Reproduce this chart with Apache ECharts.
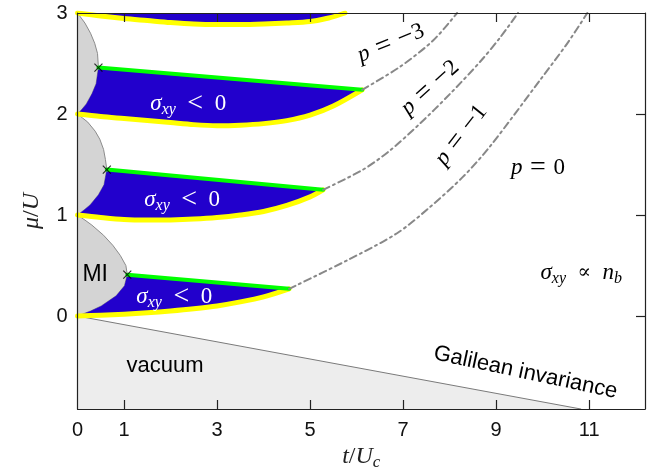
<!DOCTYPE html>
<html><head><meta charset="utf-8">
<script src="https://cdn.jsdelivr.net/npm/echarts@6/dist/echarts.min.js"></script>
<style>html,body{margin:0;padding:0;background:#fff}#c{width:655px;height:472px}</style>
</head><body><div id="c"></div>
<script>
// ---- axis ticks ----
const xTicks = [0, 1, 3, 5, 7, 9, 11];
const xInnerTicks = [1, 3, 5, 7, 9, 11];
const yTicks = [0, 1, 2, 3];
const yInnerTicks = [0, 1, 2];

// ---- vacuum boundary (Galilean invariance line) [t/Uc, mu/U] ----
const vacuumEdge = [[0, 0], [10.82, -0.92]];

// ---- Mott lobes [t/Uc, mu/U] ----
const lobe1 = [[0,0],[0.28,0.05],[0.51,0.1],[0.83,0.2],[1.01,0.3],[1.07,0.41],[1.04,0.5],[0.92,0.6],[0.76,0.7],[0.56,0.8],[0.31,0.9],[0.16,0.95],[0,1]];
const lobe2 = [[0,1],[0.14,1.05],[0.27,1.1],[0.45,1.2],[0.57,1.3],[0.63,1.45],[0.60,1.55],[0.56,1.65],[0.48,1.75],[0.38,1.83],[0.22,1.92],[0.11,1.96],[0,2]];
const lobe3 = [[0,2],[0.10,2.05],[0.19,2.1],[0.31,2.2],[0.40,2.3],[0.45,2.46],[0.43,2.6],[0.37,2.7],[0.28,2.8],[0.16,2.9],[0.08,2.95],[0,3]];

// ---- tips of the negative-Hall regions (crosses) ----
const crosses = [[1.07, 0.41], [0.63, 1.45], [0.45, 2.46]];

// ---- yellow lower boundaries ----
const yellow0 = [[0,0],[0.5,0.008],[1.0,0.018],[1.5,0.032],[2.0,0.05],[2.5,0.072],[3.0,0.10],[3.5,0.14],[4.0,0.19],[4.55,0.27]];
const yellow1 = [[0,1.0],[0.5,0.975],[1.0,0.955],[1.5,0.95],[2.0,0.952],[2.5,0.96],[3.0,0.975],[3.5,1.0],[4.0,1.035],[4.5,1.095],[5.0,1.18],[5.28,1.25]];
const yellow2 = [[0,2.0],[0.5,1.975],[1.0,1.955],[1.5,1.935],[2.0,1.915],[2.5,1.895],[3.0,1.885],[3.5,1.89],[4.0,1.905],[4.5,1.935],[5.0,1.99],[5.5,2.08],[6.12,2.24]];
const yellow3 = [[0,3.0],[0.5,2.97],[1.0,2.945],[1.5,2.925],[2.0,2.905],[2.5,2.89],[3.0,2.885],[3.5,2.885],[4.0,2.89],[4.5,2.9],[5.0,2.915],[5.4,2.95],[5.75,3.0]];

// ---- green upper boundaries ----
const green0 = [[1.07,0.41],[4.55,0.27]];
const green1 = [[0.63,1.45],[5.28,1.25]];
const green2 = [[0.45,2.46],[6.12,2.24]];

// ---- dash-dot plateau boundaries ----
const pLine1 = [[4.55,0.27],[5.79,0.55],[6.87,0.82],[7.58,1.08],[8.29,1.38],[8.87,1.68],[9.95,2.34],[10.53,2.70],[10.96,3.0]];
const pLine2 = [[5.28,1.25],[6.14,1.45],[6.72,1.64],[7.35,1.90],[8.01,2.20],[8.66,2.52],[9.09,2.76],[9.47,3.0]];
const pLine3 = [[6.12,2.24],[6.94,2.47],[7.65,2.73],[8.16,3.0]];

const C = {
  axis: '#222', lobe: '#d4d4d4', lobeEdge: '#8c8c8c', vac: '#ededed', vacEdge: '#7a7a7a',
  blue: '#2200cc', yellow: '#ffff00', green: '#00ff00', dash: '#888888'
};
const SERIF = 'Liberation Serif';
const SANS = 'Liberation Sans';
const SPW = '\u2002';   // wide math space
const SPN = '\u2004';   // narrower math space

function lowerPart(lobe, tip) {
  const out = [];
  for (const p of lobe) { if (p[1] <= tip[1] && !(p[0] === tip[0] && p[1] === tip[1])) out.push(p); }
  return out.reverse();
}
const blue0 = yellow0.concat(green0.slice().reverse()).concat(lowerPart(lobe1, crosses[0]));
const blue1 = yellow1.concat(green1.slice().reverse()).concat(lowerPart(lobe2, crosses[1]));
const blue2 = yellow2.concat(green2.slice().reverse()).concat(lowerPart(lobe3, crosses[2]));
const blue3 = yellow3.concat([[5.75, 3.0], [0, 3.0]]);
const vacuumPoly = vacuumEdge.concat([[0, -0.92]]);

function poly(pts, fill, stroke, z) {
  return {
    type: 'custom', coordinateSystem: 'cartesian2d', clip: true, silent: true, z: z,
    data: [[0, 0]],
    renderItem: function (params, api) {
      return { type: 'polygon', shape: { points: pts.map(p => api.coord(p)), smooth: 0 },
        style: { fill: fill, stroke: stroke || null, lineWidth: stroke ? 1 : 0 } };
    }
  };
}
function line(pts, color, width, type, z, smooth) {
  return {
    type: 'line', data: pts, showSymbol: false, silent: true, z: z, smooth: smooth,
    lineStyle: { color: color, width: width, type: type || 'solid', cap: 'round', join: 'round' },
    clip: true
  };
}

const sig = (col) => ({
  i: { fontFamily: SERIF, fontStyle: 'italic', fontSize: 23, fill: col, lineHeight: 28, verticalAlign: 'middle' },
  s: { fontFamily: SERIF, fontStyle: 'italic', fontSize: 16, fill: col, lineHeight: 28, verticalAlign: 'bottom' },
  r: { fontFamily: SERIF, fontSize: 23, fill: col, lineHeight: 28, verticalAlign: 'middle' },
  o: { fontFamily: SERIF, fontSize: 28, fill: col, lineHeight: 28, verticalAlign: 'middle' },
  q: { fontFamily: 'DejaVu Serif', fontSize: 20, fill: col, lineHeight: 28, verticalAlign: 'middle' }
});
const lessZero = '{i|σ}{s|xy}{r|' + SPW + '}{o|<}{r|' + SPW + '0}';
const pEq = (v) => '{i|p}{r|' + SPN + '}{o|=}{r|' + SPN + '}' + (v === '0' ? '{r|0}' : '{o|−}{r|' + v + '}');

const annotations = [
  { at: [2.38, 2.10], text: lessZero, rich: sig('#fff'), rot: 0 },
  { at: [2.25, 1.15], text: lessZero, rich: sig('#fff'), rot: 0 },
  { at: [2.08, 0.19], text: lessZero, rich: sig('#fff'), rot: 0 },
  { at: [10.83, 0.43], text: '{i|σ}{s|xy}{r|' + SPW + '}{q|∝}{r|' + SPW + '}{i|n}{s|b}', rich: sig('#000'), rot: 0 },
  { at: [6.74, 2.70], text: pEq('3'), rich: sig('#000'), rot: 22 },
  { at: [7.58, 2.26], text: pEq('2'), rich: sig('#000'), rot: 42 },
  { at: [8.25, 1.79], text: pEq('1'), rich: sig('#000'), rot: 52 },
  { at: [9.90, 1.47], text: pEq('0'), rich: sig('#000'), rot: 0 },
  { at: [0.38, 0.41], text: 'MI', font: '23px ' + SANS, rot: 0 },
  { at: [1.88, -0.49], text: 'vacuum', font: '22px ' + SANS, rot: 0 },
  { at: [9.63, -0.56], text: 'Galilean invariance', font: '22px ' + SANS, rot: -12 }
];

const textSeries = {
  type: 'custom', coordinateSystem: 'cartesian2d', silent: true, z: 20, clip: false,
  data: [[0, 0]],
  renderItem: function (params, api) {
    return {
      type: 'group',
      children: annotations.map(a => {
        const p = api.coord(a.at);
        const st = { text: a.text, align: 'center', verticalAlign: 'middle', fill: '#000' };
        if (a.rich) st.rich = a.rich; else st.font = a.font;
        return { type: 'text', x: p[0], y: p[1], rotation: a.rot * Math.PI / 180, style: st };
      })
    };
  }
};

const axisLine = { onZero: false, lineStyle: { color: C.axis, width: 1.2 } };
const tickStyle = { color: C.axis, width: 1.2 };
const nameRich = {
  i: { fontFamily: SERIF, fontStyle: 'italic', fontSize: 24, color: '#222', lineHeight: 28, verticalAlign: 'middle' },
  r: { fontFamily: SERIF, fontSize: 24, color: '#222', lineHeight: 28, verticalAlign: 'middle' },
  s: { fontFamily: SERIF, fontStyle: 'italic', fontSize: 17, color: '#222', lineHeight: 28, verticalAlign: 'bottom' }
};

const chart = echarts.init(document.getElementById('c'), null, { renderer: 'canvas' });
chart.setOption({
  animation: false,
  backgroundColor: '#fff',
  grid: { left: 77.5, right: 10, top: 13, bottom: 63, containLabel: false, outerBoundsMode: 'none' },
  xAxis: [
    { type: 'value', min: 0, max: 12.2, position: 'bottom', z: 10,
      axisLine: axisLine, splitLine: { show: false },
      axisTick: { inside: true, length: 9, customValues: xInnerTicks, lineStyle: tickStyle },
      axisLabel: { customValues: xTicks, fontSize: 20, fontFamily: SANS, color: '#111', margin: 11 },
      name: '{i|t}{r|/}{i|U}{s|c}', nameLocation: 'middle', nameGap: 34, nameTextStyle: { rich: nameRich } },
    { type: 'value', min: 0, max: 12.2, position: 'top', z: 10,
      axisLine: axisLine, splitLine: { show: false },
      axisTick: { inside: true, length: 9, customValues: xInnerTicks, lineStyle: tickStyle },
      axisLabel: { show: false } }
  ],
  yAxis: [
    { type: 'value', min: -0.92, max: 3, position: 'left', z: 10,
      axisLine: axisLine, splitLine: { show: false },
      axisTick: { show: false },
      axisLabel: { customValues: yTicks, fontSize: 20, fontFamily: SANS, color: '#111', margin: 10 },
      name: '{i|μ}{r|/}{i|U}', nameLocation: 'middle', nameGap: 32, nameRotate: 90, nameTextStyle: { rich: nameRich } },
    { type: 'value', min: -0.92, max: 3, position: 'right', z: 10,
      axisLine: axisLine, splitLine: { show: false },
      axisTick: { inside: true, length: 9, customValues: yInnerTicks, lineStyle: tickStyle },
      axisLabel: { show: false } }
  ],
  series: [
    poly(vacuumPoly, C.vac, null, 1),
    line(vacuumEdge, C.vacEdge, 1, 'solid', 2, false),
    poly(lobe1, C.lobe, C.lobeEdge, 2),
    poly(lobe2, C.lobe, C.lobeEdge, 2),
    poly(lobe3, C.lobe, C.lobeEdge, 2),
    poly(blue0, C.blue, null, 3),
    poly(blue1, C.blue, null, 3),
    poly(blue2, C.blue, null, 3),
    poly(blue3, C.blue, null, 3),
    line(yellow0, C.yellow, 5, 'solid', 4, 0.3),
    line(yellow1, C.yellow, 5, 'solid', 4, 0.3),
    line(yellow2, C.yellow, 5, 'solid', 4, 0.3),
    line(yellow3, C.yellow, 5, 'solid', 4, 0.3),
    line(green0, C.green, 4, 'solid', 4, false),
    line(green1, C.green, 4, 'solid', 4, false),
    line(green2, C.green, 4, 'solid', 4, false),
    line(pLine1, C.dash, 2, [7, 4, 2, 4], 4, 0.3),
    line(pLine2, C.dash, 2, [7, 4, 2, 4], 4, 0.3),
    line(pLine3, C.dash, 2, [7, 4, 2, 4], 4, 0.3),
    { type: 'scatter', data: crosses, silent: true, z: 6,
      symbol: 'path://M0,0L10,10M10,0L0,10', symbolSize: 8,
      itemStyle: { color: 'transparent', borderColor: '#000', borderWidth: 1.2 } },
    textSeries
  ]
});
</script></body></html>
